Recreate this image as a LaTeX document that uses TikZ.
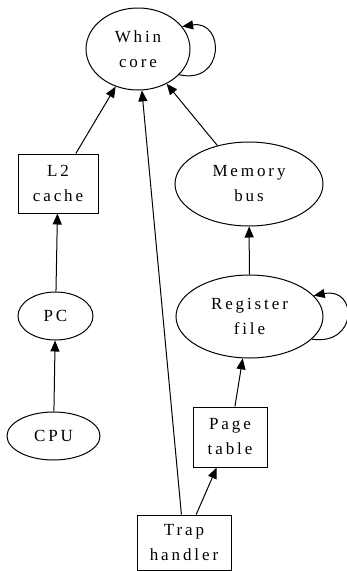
\documentclass[tikz,border=0pt]{standalone}
\usepackage{fontspec}
\setmainfont[LetterSpace=17]{Liberation Serif}
\usetikzlibrary{shapes.geometric,arrows.meta}
\tikzset{
  lbl/.style={font=\fontsize{17}{25}\selectfont, align=center, inner sep=0pt, draw, line width=1pt},
  ell/.style={lbl, ellipse},
  box/.style={lbl, rectangle},
  edge/.style={line width=1pt, -{Triangle[length=11pt,width=9pt]}}
}
\begin{document}
\begin{tikzpicture}[x=1pt,y=-1pt]
\useasboundingbox (0,0) rectangle (347,571);
\node[ell, minimum width=104pt, minimum height=82pt] (wc) at (138,49) {Whin\\core};
\node[box, minimum width=80pt, minimum height=59pt] (l2) at (58,183.5) {L2\\cache};
\node[ell, minimum width=75pt, minimum height=48pt] (pc) at (55.5,316) {PC};
\node[ell, minimum width=93pt, minimum height=48pt] (cpu) at (53.5,436) {CPU};
\node[ell, minimum width=148pt, minimum height=84pt] (mb) at (249,184) {Memory\\bus};
\node[ell, minimum width=147pt, minimum height=83pt] (rf) at (249.5,316.5) {Register\\file};
\node[box, minimum width=74pt, minimum height=60pt] (pt) at (230,437) {Page\\table};
\node[box, minimum width=94pt, minimum height=55pt] (th) at (184,542.5) {Trap\\handler};

\draw[edge] (l2) -- (wc);
\draw[edge] (mb) -- (wc);
\draw[edge] (th) -- (wc);
\draw[edge] (pc) -- (l2);
\draw[edge] (cpu) -- (pc);
\draw[edge] (rf) -- (mb);
\draw[edge] (pt) -- (rf);
\draw[edge] (th) -- (pt);
\draw[edge] (wc.-32) .. controls (225,85) and (225,20) .. (wc.27);
\draw[edge] (rf.-20) .. controls (358,346) and (358,287) .. (rf.18);
\end{tikzpicture}
\end{document}
